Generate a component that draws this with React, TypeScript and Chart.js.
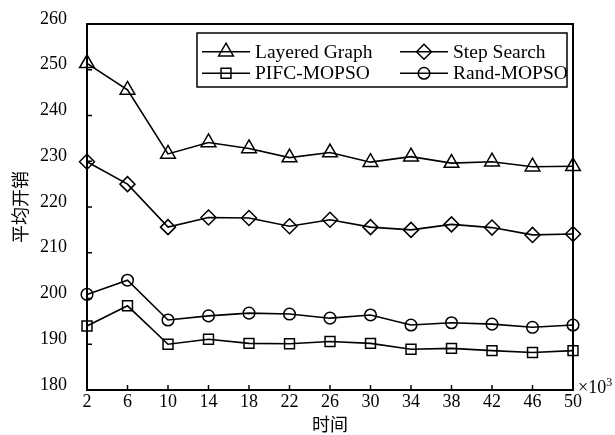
import React, { useEffect, useRef } from 'react';
import { Chart, registerables } from 'chart.js';

Chart.register(...registerables);

// ---- data ----
const xLabels = ['2', '6', '10', '14', '18', '22', '26', '30', '34', '38', '42', '46', '50'];
const seriesNames = ['Layered Graph', 'Step Search', 'PIFC-MOPSO', 'Rand-MOPSO'];
const layeredGraph = [251.4, 245.6, 231.6, 234.1, 232.8, 230.8, 231.9, 229.8, 231.0, 229.6, 229.9, 228.8, 228.9];
const stepSearch = [229.9, 225.0, 215.6, 217.7, 217.6, 215.8, 217.2, 215.6, 215.0, 216.2, 215.5, 213.9, 214.1];
const pifcMopso = [194.0, 198.4, 190.0, 191.1, 190.2, 190.1, 190.6, 190.2, 188.9, 189.1, 188.6, 188.2, 188.6];
const randMopso = [200.9, 204.0, 195.3, 196.2, 196.8, 196.6, 195.7, 196.4, 194.2, 194.7, 194.4, 193.7, 194.2];
const yMin = 180;
const yMax = 260;
const yStep = 10;
const xTitle = '时间';
const yTitle = '平均开销';
const xUnit = '×10';
const xUnitExp = '3';

const seriesValues = [layeredGraph, stepSearch, pifcMopso, randMopso];
const markerStyles = ['triangle', 'rectRot', 'rect', 'circle'];
const markerRadius = [8.5, 7.5, 7, 5.8];

const SERIF = '"Liberation Serif", "DejaVu Serif", serif';
const CJK = '"Noto Sans CJK SC", sans-serif';

function drawMarker(ctx: CanvasRenderingContext2D, style: string, x: number, y: number, r: number) {
  ctx.beginPath();
  if (style === 'triangle') {
    let rad = 0;
    ctx.moveTo(x + Math.sin(rad) * r, y - Math.cos(rad) * r);
    rad += (2 * Math.PI) / 3;
    ctx.lineTo(x + Math.sin(rad) * r, y - Math.cos(rad) * r);
    rad += (2 * Math.PI) / 3;
    ctx.lineTo(x + Math.sin(rad) * r, y - Math.cos(rad) * r);
    ctx.closePath();
  } else if (style === 'rectRot') {
    ctx.moveTo(x - r, y);
    ctx.lineTo(x, y - r);
    ctx.lineTo(x + r, y);
    ctx.lineTo(x, y + r);
    ctx.closePath();
  } else if (style === 'rect') {
    const s = Math.SQRT1_2 * r;
    ctx.rect(x - s, y - s, 2 * s, 2 * s);
  } else {
    ctx.arc(x, y, r, 0, Math.PI * 2);
  }
  ctx.stroke();
}

const framePlugin = {
  id: 'framePlugin',
  afterDraw(chart: any) {
    const { ctx, chartArea } = chart;
    const { left, right, top, bottom } = chartArea;
    ctx.save();
    // box (top and right sides)
    ctx.strokeStyle = '#000';
    ctx.lineWidth = 2;
    ctx.beginPath();
    ctx.moveTo(left, top);
    ctx.lineTo(right, top);
    ctx.lineTo(right, bottom);
    ctx.stroke();

    // inward tick marks
    ctx.lineWidth = 1.5;
    const xs = chart.scales.x;
    const ys = chart.scales.y;
    ctx.beginPath();
    xs.ticks.forEach((_t: any, i: number) => {
      const px = xs.getPixelForTick(i);
      ctx.moveTo(px, bottom);
      ctx.lineTo(px, bottom - 5);
    });
    ys.ticks.forEach((t: any) => {
      const py = ys.getPixelForValue(t.value);
      ctx.moveTo(left, py);
      ctx.lineTo(left + 5, py);
    });
    ctx.stroke();

    // x10^3 unit
    ctx.fillStyle = '#000';
    ctx.textBaseline = 'alphabetic';
    ctx.textAlign = 'left';
    ctx.font = `18px ${SERIF}`;
    const ux = right + 5;
    const uy = bottom + 3;
    ctx.fillText(xUnit, ux, uy);
    const w = ctx.measureText(xUnit).width;
    ctx.font = `12px ${SERIF}`;
    ctx.fillText(xUnitExp, ux + w, uy - 7);

    // legend
    const boxRight = right - 6;
    const boxLeft = boxRight - 370;
    const boxTop = top + 9;
    const boxH = 54;
    ctx.fillStyle = '#fff';
    ctx.fillRect(boxLeft, boxTop, boxRight - boxLeft, boxH);
    ctx.lineWidth = 1.5;
    ctx.strokeStyle = '#000';
    ctx.strokeRect(boxLeft, boxTop, boxRight - boxLeft, boxH);
    const colOff = [0, 198];
    const rowY = [18.7, 40.3];
    chart.data.datasets.forEach((ds: any, i: number) => {
      const cx = boxLeft + colOff[i % 2];
      const cy = boxTop + rowY[Math.floor(i / 2)];
      ctx.strokeStyle = '#000';
      ctx.lineWidth = 1.5;
      ctx.beginPath();
      ctx.moveTo(cx + 5, cy);
      ctx.lineTo(cx + 53, cy);
      ctx.stroke();
      drawMarker(ctx, ds.pointStyle, cx + 29, cy, ds.pointRadius);
      ctx.fillStyle = '#000';
      ctx.font = `19.5px ${SERIF}`;
      ctx.textBaseline = 'middle';
      ctx.textAlign = 'left';
      ctx.fillText(ds.label, cx + 58, cy + 1);
    });
    ctx.restore();
  },
};

export default function App() {
  const canvasRef = useRef<HTMLCanvasElement | null>(null);

  useEffect(() => {
    const canvas = canvasRef.current;
    if (!canvas) return;
    const datasets = seriesNames.map((name, i) => ({
      label: name,
      data: seriesValues[i],
      borderColor: '#000',
      borderWidth: 1.6,
      backgroundColor: 'rgba(0,0,0,0)',
      pointStyle: markerStyles[i],
      pointRadius: markerRadius[i],
      pointBorderColor: '#000',
      pointBackgroundColor: 'rgba(0,0,0,0)',
      pointBorderWidth: 1.5,
      tension: 0,
      clip: false as any,
    }));

    const chart = new Chart(canvas, {
      type: 'line',
      data: { labels: xLabels, datasets },
      plugins: [framePlugin],
      options: {
        responsive: false,
        animation: false,
        events: [],
        layout: { padding: { left: 0, top: 24, right: 42, bottom: 0 } },
        plugins: { legend: { display: false }, tooltip: { enabled: false } },
        scales: {
          x: {
            type: 'category',
            offset: false,
            grid: { display: false, drawTicks: false },
            border: { display: true, color: '#000', width: 2 },
            ticks: {
              color: '#000',
              font: { family: SERIF, size: 18 },
              padding: 1,
              maxRotation: 0,
              autoSkip: false,
            },
            title: {
              display: true,
              text: xTitle,
              color: '#000',
              font: { family: CJK, size: 18 },
              padding: { top: 0, bottom: 0 },
            },
            afterFit: (scale: any) => {
              scale.height = 45;
              scale.paddingLeft = 0;
              scale.paddingRight = 0;
            },
          },
          y: {
            type: 'linear',
            min: yMin,
            max: yMax,
            grid: { display: false, drawTicks: false },
            border: { display: true, color: '#000', width: 2 },
            ticks: {
              stepSize: yStep,
              color: '#000',
              font: { family: SERIF, size: 18 },
              padding: 20,
              labelOffset: -5,
            },
            title: {
              display: true,
              text: yTitle,
              color: '#000',
              font: { family: CJK, size: 18 },
              padding: { top: 9, bottom: 0 },
            },
            afterFit: (scale: any) => {
              scale.width = 87;
              scale.paddingTop = 0;
              scale.paddingBottom = 0;
            },
          },
        },
      },
    });
    return () => chart.destroy();
  }, []);

  return (
    <div style={{ position: 'absolute', left: 0, top: 0, width: 615, height: 435, background: '#fff' }}>
      <canvas ref={canvasRef} width={615} height={435} style={{ display: 'block' }} />
    </div>
  );
}
